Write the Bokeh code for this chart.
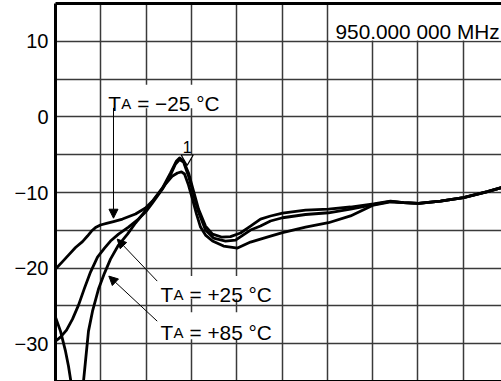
from bokeh.plotting import figure
from bokeh.models import (Range1d, FixedTicker, LinearAxis, Label, BoxAnnotation,
                          Arrow, NormalHead, ColumnDataSource)
from bokeh.embed import file_html
from bokeh.resources import INLINE

# x: horizontal grid divisions (no scale printed), y: level in dB
x_m25 = [0.000, 0.155, 0.287, 0.442, 0.596, 0.706, 0.795, 0.883, 0.993, 1.126, 1.280, 1.479, 1.766, 1.987, 2.141,
         2.362, 2.539, 2.671, 2.738, 2.826, 2.936, 3.046, 3.157, 3.311, 3.466, 3.664, 3.863,
         4.084, 4.305, 4.525, 4.746, 5.011, 5.519, 6.026, 6.512, 7.020, 7.395, 7.682, 8.013,
         8.499, 9.007, 9.536, 9.845, 10.0]
y_m25 = [-20.13, -19.14, -18.28, -17.28, -16.49, -15.76, -15.10, -14.64, -14.30, -14.08, -13.84, -13.51, -12.85, -12.05, -11.13,
         -9.40, -7.42, -5.83, -5.43, -5.83, -7.42, -9.80, -12.19, -14.44, -15.50, -15.89, -15.83,
         -15.36, -14.44, -13.51, -13.11, -12.72, -12.32, -12.19, -11.92, -11.52, -11.13, -11.35, -11.43,
         -11.13, -10.69, -9.89, -9.36, -9.10]

x_p25 = [0.000, 0.110, 0.243, 0.375, 0.508, 0.640, 0.773, 0.927, 1.082, 1.214, 1.391, 1.611,
         1.832, 2.009, 2.141, 2.362, 2.539, 2.649, 2.738, 2.826, 2.936, 3.046, 3.157, 3.311,
         3.488, 3.753, 3.974, 4.305, 4.525, 4.746, 5.011, 5.519, 6.026, 6.512, 7.020, 7.395,
         7.682, 8.013, 8.499, 9.007, 9.536, 9.845, 10.0]
y_p25 = [-29.67, -29.14, -28.21, -26.75, -24.90, -22.65, -20.53, -18.54, -17.35, -16.42, -15.50, -14.57,
         -13.51, -12.45, -11.39, -9.54, -7.68, -6.23, -5.63, -5.96, -7.81, -10.20, -12.58, -14.97,
         -16.03, -16.42, -16.29, -14.97, -14.44, -13.77, -13.34, -12.91, -12.68, -12.19, -11.59, -11.19,
         -11.35, -11.43, -11.13, -10.69, -9.89, -9.36, -9.10]

x_p85 = [0.000, 0.110, 0.221, 0.287, 0.353, 0.464, 0.574, 0.618, 0.662, 0.728, 0.817, 0.949,
         1.082, 1.214, 1.391, 1.589, 1.766, 1.943, 2.097, 2.252, 2.428, 2.583, 2.693, 2.781,
         2.848, 2.936, 3.024, 3.113, 3.201, 3.311, 3.466, 3.709, 4.018, 4.305, 4.525, 4.746,
         5.011, 5.519, 6.026, 6.512, 7.020, 7.395, 7.682, 8.013, 8.499, 9.007, 9.536, 9.845, 10.0]
y_p85 = [-26.49, -28.34, -30.99, -32.98, -35.50, -40.00, -35.50, -34.97, -32.32, -28.34, -25.70, -22.78,
         -20.66, -18.81, -16.95, -15.50, -14.04, -12.72, -11.52, -10.33, -8.87, -7.81, -7.42, -7.28,
         -7.55, -9.01, -10.86, -12.85, -14.57, -15.63, -16.42, -17.09, -17.35, -16.56, -16.16, -15.76,
         -15.30, -14.57, -14.00, -13.10, -11.66, -11.23, -11.35, -11.43, -11.13, -10.69, -9.89, -9.36, -9.10]

marker_x = [2.907]
marker_y = [-5.50]
marker_name = ["1"]

ytick_vals = [10, 0, -10, -20, -30]
ytick_labels = ["10", "0", "\u221210", "\u221220", "\u221230"]
xgrid_vals = [0, 1, 2, 3, 4, 5, 6, 7, 8, 9, 10]
ygrid_vals = [-35, -30, -25, -20, -15, -10, -5, 0, 5, 10, 15]

freq_text = "950.000 000 MHz"
labels = [("\u2212", "25"), ("+", "25"), ("+", "85")]

FONT = "Liberation Sans"
LFS = "20.8px"

p = figure(width=501, height=381, output_backend="svg", toolbar_location=None,
           x_range=Range1d(0, 9.845), y_range=Range1d(-35.0, 15.0),
           min_border_left=55, min_border_right=0, min_border_top=3, min_border_bottom=0)
p.outline_line_color = None
p.background_fill_color = "white"
p.border_fill_color = "white"

# left axis = left border with labels
ya = p.yaxis[0]
ya.ticker = FixedTicker(ticks=ytick_vals)
ya.major_label_overrides = {v: s for v, s in zip(ytick_vals, ytick_labels)}
ya.axis_line_width = 3
ya.axis_line_color = "black"
ya.major_tick_out = 0
ya.major_tick_in = 0
ya.minor_tick_out = 0
ya.minor_tick_in = 0
ya.major_label_standoff = 7
ya.major_label_text_font = FONT
ya.major_label_text_font_size = "20px"
ya.major_label_text_color = "black"


def border_axis(ax):
    ax.ticker = FixedTicker(ticks=[])
    ax.axis_line_width = 3
    ax.axis_line_color = "black"
    ax.major_tick_out = 0
    ax.major_tick_in = 0
    ax.minor_tick_out = 0
    ax.minor_tick_in = 0
    ax.major_label_standoff = 0
    ax.major_label_text_font_size = "0px"


border_axis(p.xaxis[0])
top_ax = LinearAxis()
border_axis(top_ax)
p.add_layout(top_ax, "above")

p.xgrid.ticker = FixedTicker(ticks=xgrid_vals)
p.ygrid.ticker = FixedTicker(ticks=ygrid_vals)
for g in (p.xgrid[0], p.ygrid[0]):
    g.grid_line_color = "#3a3a3a"
    g.grid_line_alpha = 1.0
    g.grid_line_width = 1.5

# white backgrounds behind the texts
p.add_layout(BoxAnnotation(left=6.06, bottom=10.12, fill_color="white", fill_alpha=1,
                           line_color=None, level="underlay"))
p.add_layout(BoxAnnotation(left=1.10, right=3.69, bottom=1.15, top=4.24, fill_color="white",
                           fill_alpha=1, line_color=None, level="underlay"))
p.add_layout(BoxAnnotation(left=2.21, right=4.84, bottom=-24.04, top=-21.06, fill_color="white",
                           fill_alpha=1, line_color=None, level="underlay"))
p.add_layout(BoxAnnotation(left=2.21, right=4.84, bottom=-29.4, top=-25.83, fill_color="white",
                           fill_alpha=1, line_color=None, level="underlay"))

# traces
for xs, ys in [(x_m25, y_m25), (x_p25, y_p25), (x_p85, y_p85)]:
    p.line(xs, ys, line_color="black", line_width=2.8, line_join="round")

# marker 1
src_m = ColumnDataSource(dict(x=marker_x, y=marker_y, t=marker_name))
p.scatter("x", "y", source=src_m, marker="inverted_triangle", size=12,
          fill_color="white", line_color="black", line_width=1.2)
p.text("x", "y", text="t", source=src_m, text_align="center", text_baseline="alphabetic",
       text_font_size="16px", text_font={"value": FONT}, y_offset=-11, text_color="black")

# frequency label
p.add_layout(Label(x=6.181, y=11.30, text=freq_text, text_font=FONT, text_font_size=LFS,
                   text_baseline="alphabetic", text_color="black"))

# temperature labels: T with small A
label_pos = [(1.163, 1.76), (2.318, -23.48), (2.318, -28.57)]
for (sign, num), (lx, ly) in zip(labels, label_pos):
    p.add_layout(Label(x=lx, y=ly, text="T", text_font=FONT, text_font_size=LFS,
                       text_baseline="alphabetic", text_color="black"))
    p.add_layout(Label(x=lx, y=ly, x_offset=13.0, text="A", text_font=FONT, text_font_size="15px",
                       text_baseline="alphabetic", text_color="black"))
    p.add_layout(Label(x=lx, y=ly, x_offset=29.0, text="= " + sign + num + " \u00b0C", text_font=FONT,
                       text_font_size=LFS, text_baseline="alphabetic", text_color="black"))

# pointer arrows
arrows = [(1.280, 1.19, 1.280, -13.4), (2.245, -21.72, 1.362, -16.16), (2.245, -27.02, 1.177, -21.06)]
for xs_, ys_, xe, ye in arrows:
    p.add_layout(Arrow(end=NormalHead(size=9, fill_color="black", line_color="black", line_width=1),
                       x_start=xs_, y_start=ys_, x_end=xe, y_end=ye, line_width=1, line_color="black"))

open("out.html", "w").write(file_html(p, INLINE))
